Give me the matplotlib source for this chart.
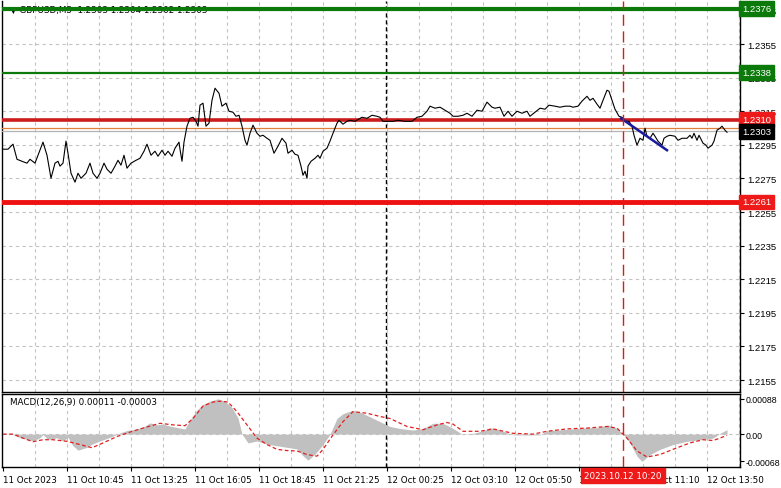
import matplotlib.pyplot as plt
import matplotlib.transforms as mtransforms
import numpy as np

# GBPUSD M5, x = bar number counted from the left edge of the chart
price_bar = [1.5, 4, 6.5, 8.5, 11, 13.5, 15, 17.5, 19, 21.5, 23.5, 25.5, 27.5, 29, 30, 31.5, 33, 34, 35.5, 37.5,
             39, 40.5, 43, 45, 46.5, 48.5, 50, 52, 53.5, 55.5, 57.5, 59, 60.5, 62, 63.5, 65.5, 68, 70, 72, 73.5,
             75.5, 77.5, 79, 81, 82.5, 84, 86, 87.5, 89.5, 90, 91, 92, 93.5, 95, 96.5, 98, 99, 100, 101.5, 103,
             104.5, 106, 107.5, 109.5, 111, 113, 114.5, 116.5, 118, 119.5, 121, 122.5, 123.5,
             125, 126.5, 128.5, 130, 131.5, 133.5, 135, 137, 139, 141, 143, 144, 146, 147.5, 149, 150.5, 151.5,
             152.5, 153.5, 154, 155.5, 157.5, 159, 160, 161.5, 163.5, 165, 166.5, 168.5, 169.5, 171.5, 173.5, 175,
             177.5, 181, 183.5, 186, 188.5, 190, 191.5, 194, 196.5, 199, 202.5, 206, 208.5, 211, 213.5, 215, 217.5,
             220, 222.5, 225, 226.5, 229, 231.5, 233.5, 236, 238.5, 241, 243.5, 246,
             247.5, 250, 252, 254, 256, 258.5, 261, 263.5, 265, 267.5, 270, 272.5, 274.5, 277.5, 280, 282.5, 285,
             286.5, 289, 291, 293.5, 295, 296.5, 298.5, 300, 301.5, 303.5, 304.5, 306, 307.5, 309.5, 311, 312.5,
             314.5, 316, 317, 318.5, 320, 321.5, 322.5, 323.5, 325, 326.5, 327.5, 329, 331, 332, 333.5, 335, 337.5,
             339, 341, 343.5, 345, 346, 347, 348.5, 349.5, 351.5, 353, 354, 356, 357, 358.5, 360, 361, 362.5, 363.5]
price = [1.22924, 1.22924, 1.22954, 1.22864, 1.22852, 1.22841, 1.22864, 1.22841, 1.22888, 1.22966, 1.22888,
         1.22751, 1.22841, 1.22852, 1.22823, 1.22841, 1.22972, 1.22900, 1.22781, 1.22728, 1.22781, 1.22751,
         1.22781, 1.22841, 1.22781, 1.22751, 1.22781, 1.22841, 1.22805, 1.22781, 1.22823, 1.22858, 1.22829,
         1.22888, 1.22811, 1.22841, 1.22858, 1.22870, 1.22912, 1.22954, 1.22888, 1.22912, 1.22882, 1.22918,
         1.22888, 1.22912, 1.22882, 1.22930, 1.22966, 1.22924, 1.22852, 1.22966, 1.23061, 1.23108, 1.23114,
         1.23090, 1.23061, 1.23186, 1.23198, 1.23061, 1.23079, 1.23215, 1.23287, 1.23257, 1.23180, 1.23198,
         1.23150, 1.23144, 1.23120, 1.23126, 1.23061, 1.22977, 1.22948,
         1.23019, 1.23067, 1.23019, 1.23001, 1.23007, 1.22989, 1.22977, 1.22900, 1.22942, 1.22989, 1.22960,
         1.22900, 1.22918, 1.22894, 1.22888, 1.22823, 1.22769, 1.22793, 1.22751, 1.22823, 1.22852, 1.22870,
         1.22888, 1.22870, 1.22912, 1.22930, 1.22972, 1.23019, 1.23079, 1.23096, 1.23073, 1.23090, 1.23096,
         1.23090, 1.23114, 1.23108, 1.23126, 1.23120, 1.23114, 1.23090, 1.23090, 1.23090, 1.23096, 1.23090,
         1.23090, 1.23114, 1.23120, 1.23150, 1.23180, 1.23168, 1.23174, 1.23156, 1.23138, 1.23120, 1.23120,
         1.23126, 1.23138, 1.23120, 1.23156, 1.23150, 1.23204, 1.23174,
         1.23168, 1.23174, 1.23120, 1.23150, 1.23120, 1.23150, 1.23138, 1.23150, 1.23120, 1.23144, 1.23168,
         1.23162, 1.23186, 1.23180, 1.23174, 1.23180, 1.23180, 1.23174, 1.23180, 1.23210, 1.23239, 1.23215,
         1.23227, 1.23192, 1.23168, 1.23215, 1.23275, 1.23269, 1.23215, 1.23162, 1.23120, 1.23114, 1.23090,
         1.23090, 1.23061, 1.23007, 1.22948, 1.22989, 1.22977, 1.23049, 1.23001, 1.22989, 1.23019, 1.23001,
         1.22972, 1.22948, 1.22989, 1.23001, 1.23007, 1.23001, 1.22977, 1.22989, 1.22989, 1.23007, 1.22989,
         1.23019, 1.22977, 1.23007, 1.22960, 1.22948, 1.22930, 1.22948, 1.22972, 1.23037, 1.23049, 1.23061,
         1.23037, 1.23025]

# MACD(12,26,9) histogram and signal
macd_bar = [1.5, 6.5, 10, 13.5, 16.5, 20, 21.5, 23.5, 25, 28.5, 31.5, 34, 36.5, 39, 43.5, 46, 50, 55, 60, 63.5,
            66.5, 71.5, 75, 78.5, 81.5, 85, 90, 92.5, 95, 98.5, 101.5, 105, 109, 112.5, 116, 119, 121, 124,
            128.5, 133.5, 138.5, 143.5, 148.5, 151.5, 154, 157.5, 161.5, 165, 168.5, 171.5, 176, 180, 185, 190,
            195, 200, 206.5, 211.5, 216.5, 221.5, 226.5, 231, 236.5, 241.5, 245, 250, 256.5, 263.5, 270, 273.5,
            278.5, 286.5, 293.5, 298.5, 304, 308.5, 311.5, 315, 318.5, 321, 325, 330, 336.5, 343.5, 350, 356.5,
            360, 363.5]
macd = [0, -0.00001, -0.00009, -0.00013, -0.00017, -0.00009, -0.00001, -0.00011, -0.00013, -0.00009, -0.00017,
        -0.00008, -0.00029, -0.00040, -0.00033, -0.00025, -0.00017, -0.00008, 0.00003, 0.00009, 0.00011, 0.00017,
        0.00028, 0.00023, 0.00025, 0.00020, 0.00015, 0.00013, 0.00036, 0.00060, 0.00074, 0.00082, 0.00088,
        0.00082, 0.00066, 0.00040, 0, -0.00022, -0.00017, -0.00025, -0.00029, -0.00033, -0.00037, -0.00054,
        -0.00065, -0.00050, -0.00026, 0, 0.00039, 0.00051, 0.00059, 0.00055, 0.00043, 0.00031, 0.00019,
        0.00014, 0.00010, 0.00014, 0.00027, 0.00027, 0.00014, 0, 0.00002, 0.00008, 0.00016, 0.00010, -0.00002,
        -0.00002, -0.00002, 0.00008, 0.00010, 0.00013, 0.00016, 0.00016, 0.00023, 0.00014, 0, -0.00022,
        -0.00055, -0.00068, -0.00051, -0.00038, -0.00026, -0.00018, -0.00014, -0.00010, 0.00002, 0.00011]
sig_bar = [1.5, 6.5, 11.5, 16.5, 21.5, 26.5, 33.5, 40, 46, 51.5, 58.5, 65, 71.5, 80, 86.5, 92.5, 96.5, 101.5,
           106.5, 110, 114, 118.5, 123.5, 128.5, 133.5, 138.5, 143.5, 148.5, 153.5, 158.5, 161.5, 166.5, 171.5,
           176.5, 183.5, 190, 195, 203.5, 211.5, 218.5, 223.5, 226.5, 231.5, 240, 246.5, 256.5, 266.5, 273.5,
           283.5, 293.5, 303.5, 308.5, 313.5, 318.5, 323.5, 330, 336.5, 345, 351.5, 356.5, 360, 363.5]
signal = [0, 0, -0.0001, -0.00019, -0.00014, -0.00014, -0.00018, -0.00026, -0.00034, -0.00022, -0.00006,
          0.00005, 0.00015, 0.00027, 0.00023, 0.00021, 0.00039, 0.00070, 0.00080, 0.00082, 0.00080, 0.00056,
          0.00023, -0.00010, -0.00026, -0.00038, -0.00041, -0.00042, -0.00051, -0.00055, -0.00038, -0.00002,
          0.00031, 0.00056, 0.00052, 0.00044, 0.00039, 0.00019, 0.00011, 0.00023, 0.00029, 0.00025, 0.00007,
          0.00007, 0.00013, 0.00002, 0.0, 0.00007, 0.00013, 0.00015, 0.00019, 0.00015, -0.00010, -0.00042,
          -0.00057, -0.00051, -0.00038, -0.00022, -0.00014, -0.00016, -0.00010, -0.00003]

# levels drawn on the chart
green_levels = [1.2376, 1.2338]
red_levels = [1.2310, 1.2261]
orange_level = 1.2305
bid = 1.2303
trend_bar = [310.5, 333.5]
trend_price = [1.23108, 1.22918]
day_sep = 193
entry_bar = 311.5

price_ticks = [1.2155, 1.2175, 1.2195, 1.2215, 1.2235, 1.2255, 1.2275, 1.2295, 1.2315, 1.2335, 1.2355, 1.2375]
time_ticks = [1.5, 33.5, 65.5, 97.5, 129.5, 161.5, 193.5, 225.5, 257.5, 289.5, 321.5, 353.5]
time_labels = ['11 Oct 2023', '11 Oct 10:45', '11 Oct 13:25', '11 Oct 16:05', '11 Oct 18:45', '11 Oct 21:25',
               '12 Oct 00:25', '12 Oct 03:10', '12 Oct 05:50', '12 Oct 08:30', '12 Oct 11:10', '12 Oct 13:50']

assert len(price_bar) == len(price)
assert len(macd_bar) == len(macd)
assert len(sig_bar) == len(signal)

plt.rcParams['font.family'] = ['DejaVu Sans']
fs = 6.3
yfont = dict(family='Liberation Sans', size=6.8)
W, H = 781, 489
fig = plt.figure(figsize=(W / 100, H / 100), dpi=100)
ax = fig.add_axes([2 / W, (H - 393) / H, 738 / W, 391 / H])
ax2 = fig.add_axes([2 / W, (H - 468) / H, 738 / W, 73 / H])

grid_kw = dict(color='#c4c4c4', lw=0.8, ls=(0, (3, 3)), zorder=0)
vgrid = np.arange(17.5, 370, 16)
for a in (ax, ax2):
    a.set_xlim(1, 370)
    for g in vgrid:
        a.axvline(g, **grid_kw)
    a.axvline(day_sep, color='black', lw=1, ls=(0, (3, 2)), zorder=1)
    a.axvline(entry_bar, color='#e01818', lw=1, ls=(0, (8, 4)), zorder=6)
    a.yaxis.tick_right()
    a.tick_params(axis='y', direction='out', length=3, pad=2, width=0.8)
    for s in a.spines.values():
        s.set_linewidth(1)

# main price panel
ax.set_ylim(1.21479, 1.23806)
ax.set_yticks(price_ticks)
ax.set_yticklabels([f'{t:.4f}' for t in price_ticks], fontdict=yfont)
for t in price_ticks:
    ax.axhline(t, **grid_kw)
ax.set_xticks([])
ax.spines['top'].set_visible(False)

ax.plot(price_bar, price, color='black', lw=0.8, zorder=4)
ax.axhline(green_levels[0], color='#0b7a0b', lw=3, zorder=5)
ax.axhline(green_levels[1], color='#0b7a0b', lw=1.6, zorder=5)
ax.axhline(red_levels[0], color='#cc1c1c', lw=2.6, zorder=3)
ax.axhline(red_levels[1], color='#ee1111', lw=3.5, zorder=3)
ax.axhline(orange_level, color='#e0803a', lw=0.9, zorder=3)
ax.axhline(bid, color='#b4b4b4', lw=0.9, zorder=3)
ax.plot(trend_bar, trend_price, color='#1a1a9c', lw=1.8, zorder=5)

ax.text(8 / 738, 1 - 8 / 391, '\u25bc GBPUSD,M5  1.2303 1.2304 1.2302 1.2303', transform=ax.transAxes,
        fontsize=fs, va='center', ha='left', color='black', zorder=2)

tr = mtransforms.blended_transform_factory(ax.transAxes, ax.transData)
boxes = [(green_levels[0], '#0b7a0b'), (green_levels[1], '#0b7a0b'), (red_levels[0], '#ee1a1a'),
         (bid, 'black'), (red_levels[1], '#ee1a1a')]
for lvl, col in boxes:
    ax.text(1.003, lvl, f'{lvl:.4f}', transform=tr, color='white', ha='left', va='center',
            fontdict=yfont, bbox=dict(boxstyle='square,pad=0.3', fc=col, ec=col), zorder=10, clip_on=False)

# MACD panel
ax2.set_ylim(-0.00082, 0.001)
ax2.set_yticks([0.00088, 0.0, -0.00068])
ax2.set_yticklabels(['0.00088', '0.00', '-0.00068'], fontdict=dict(family='Liberation Sans', size=6.3))
ax2.tick_params(axis='y', pad=1)
ax2.axhline(0, **grid_kw)
ax2.fill_between(macd_bar, 0, macd, color='#c0c0c0', lw=0, zorder=2)
ax2.plot(sig_bar, signal, color='#e02020', lw=0.9, ls=(0, (3, 2)), zorder=3)
ax2.text(8 / 738, 1 - 8 / 73, 'MACD(12,26,9) 0.00011 -0.00003', transform=ax2.transAxes,
         fontsize=fs, va='center', ha='left', color='black')

ax2.set_xticks(time_ticks)
ax2.set_xticklabels(time_labels, ha='left', fontsize=fs)
ax2.tick_params(axis='x', direction='out', length=3, pad=3, width=0.8)

ax2.text(entry_bar, -0.00093, '2023.10.12 10:20', fontsize=fs, color='white',
         ha='center', va='top', bbox=dict(boxstyle='square,pad=0.35', fc='#ee1a1a', ec='#ee1a1a'),
         zorder=10, clip_on=False)

fig.savefig('out.png', dpi=100, facecolor='white')
